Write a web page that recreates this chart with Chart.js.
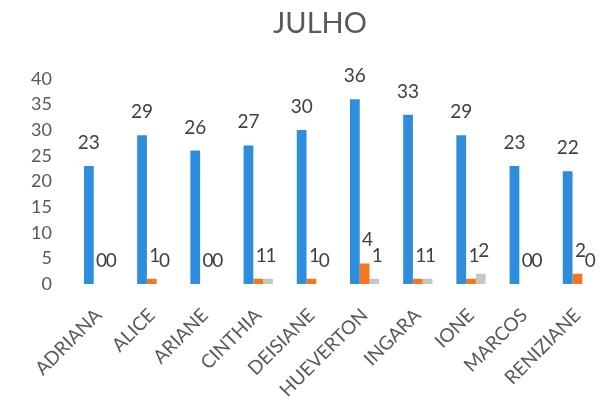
<!DOCTYPE html>
<html>
<head>
<meta charset="utf-8">
<script src="https://cdn.jsdelivr.net/npm/chart.js@4.4.1/dist/chart.umd.min.js"></script>
<style>
html,body{margin:0;padding:0;background:#fff;overflow:hidden;}
#wrap{width:640px;height:404px;position:relative;}
</style>
</head>
<body>
<div id="wrap"><canvas id="c"></canvas></div>
<script>
const categories = ["ADRIANA","ALICE","ARIANE","CINTHIA","DEISIANE","HUEVERTON","INGARA","IONE","MARCOS","RENIZIANE"];
const seriesBlue   = [23, 29, 26, 27, 30, 36, 33, 29, 23, 22];
const seriesOrange = [0, 1, 0, 1, 1, 4, 1, 1, 0, 2];
const seriesGray   = [0, 0, 0, 1, 0, 1, 1, 2, 0, 0];
const yTicks = [0, 5, 10, 15, 20, 25, 30, 35, 40];
const titleText = "JULHO";

const FONT = "Lato, 'Open Sans', sans-serif";

const labelPlugin = {
  id: 'barLabels',
  afterDatasetsDraw(chart) {
    const ctx = chart.ctx;
    ctx.save();
    ctx.font = "19px " + FONT;
    ctx.fillStyle = "#404040";
    ctx.textAlign = "center";
    ctx.textBaseline = "alphabetic";
    chart.data.datasets.forEach((ds, i) => {
      const meta = chart.getDatasetMeta(i);
      meta.data.forEach((el, j) => {
        ctx.fillText(String(ds.data[j]), el.x + (i === 0 ? 0 : 3), el.y - 17);
      });
    });
    ctx.restore();
  }
};

new Chart(document.getElementById('c'), {
  type: 'bar',
  data: {
    labels: categories,
    datasets: [
      { label: "S1", data: seriesBlue,   backgroundColor: "#2E8EDC" },
      { label: "S2", data: seriesOrange, backgroundColor: "#F5761F" },
      { label: "S3", data: seriesGray,   backgroundColor: "#C6C6C6" }
    ]
  },
  options: {
    responsive: true,
    maintainAspectRatio: false,
    animation: false,
    datasets: { bar: { categoryPercentage: 0.55, barPercentage: 1.0 } },
    layout: { padding: { left: 0, right: 0, top: 6, bottom: 0 } },
    plugins: {
      legend: { display: false },
      tooltip: { enabled: false },
      title: {
        display: true,
        text: titleText,
        color: "#595959",
        font: { family: FONT, size: 29, weight: 'normal' },
        padding: { top: 0, bottom: 38 }
      }
    },
    scales: {
      x: {
        grid: { display: false, drawTicks: false },
        border: { display: false },
        ticks: {
          color: "#595959",
          font: { family: FONT, size: 19 },
          maxRotation: 45, minRotation: 45,
          padding: 20,
          autoSkip: false
        },
        afterFit(scale) { scale.height = 120; }
      },
      y: {
        min: 0, max: 40,
        grid: { display: false, drawTicks: false },
        border: { display: false },
        afterBuildTicks(scale) { scale.ticks = yTicks.map(v => ({ value: v })); },
        ticks: {
          color: "#595959",
          font: { family: FONT, size: 18 },
          padding: 20
        },
        afterFit(scale) { scale.width = 72; }
      },
      yRight: {
        display: true,
        position: 'right',
        min: 0, max: 40,
        grid: { display: false, drawTicks: false },
        border: { display: false },
        ticks: { display: false },
        afterFit(scale) { scale.width = 36; }
      }
    }
  },
  plugins: [labelPlugin]
});
</script>
</body>
</html>
